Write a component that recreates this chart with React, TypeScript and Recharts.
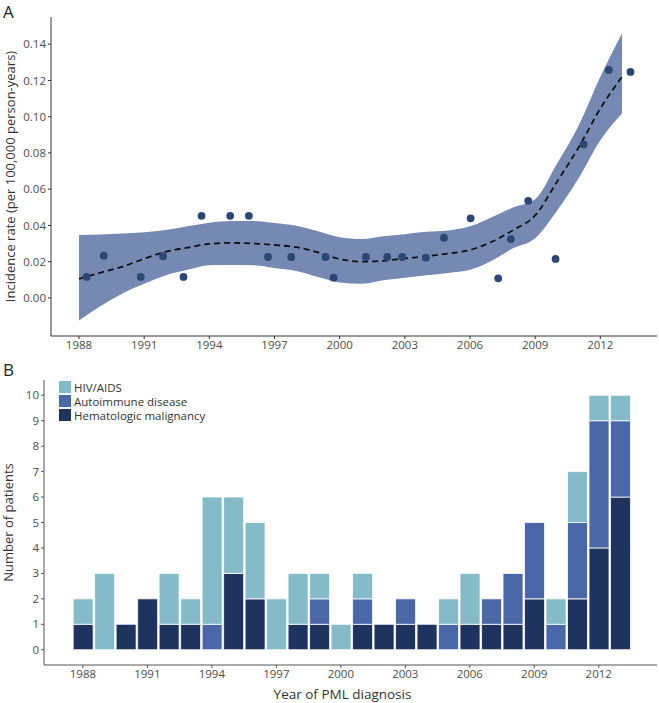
import React from "react"
import {
  ComposedChart, Area, Line, Scatter, XAxis, YAxis, BarChart, Bar,
} from "recharts"

// panel A: smoothed fit with confidence band
const fitYears = [1988, 1989, 1990, 1991, 1992, 1993, 1994, 1995, 1996, 1997, 1998, 1999, 2000,
  2001, 2002, 2003, 2004, 2005, 2006, 2007, 2008, 2009, 2010, 2011, 2012, 2013]
const fitRate = [0.0105, 0.014, 0.0173, 0.0216, 0.0255, 0.0278, 0.0298, 0.0304, 0.03, 0.0292, 0.028, 0.0252, 0.0215,
  0.02, 0.0205, 0.0218, 0.023, 0.0245, 0.0265, 0.031, 0.0375, 0.0455, 0.064, 0.083, 0.1045, 0.122]
const lowerCI = [-0.0125, -0.0045, 0.0025, 0.0078, 0.0125, 0.0155, 0.018, 0.0182, 0.018, 0.0165, 0.0148, 0.0115, 0.0085,
  0.0078, 0.0098, 0.0112, 0.0125, 0.0138, 0.0155, 0.0205, 0.0275, 0.033, 0.048, 0.066, 0.087, 0.1018]
const upperCI = [0.0347, 0.035, 0.0355, 0.0362, 0.0375, 0.0395, 0.0415, 0.0424, 0.0424, 0.0413, 0.0398, 0.0368, 0.0335,
  0.0325, 0.034, 0.0352, 0.0365, 0.0372, 0.0395, 0.0445, 0.05, 0.0545, 0.074, 0.095, 0.122, 0.146]

// observed incidence points
const pointYears = [1988.35, 1989.14, 1990.84, 1991.87, 1992.81, 1993.64, 1994.96, 1995.82, 1996.7, 1997.77,
  1999.35, 1999.72, 2001.21, 2002.19, 2002.88, 2003.97, 2004.8, 2006.03, 2007.3, 2007.88, 2008.68, 2009.94,
  2011.23, 2012.39, 2013.39]
const pointRates = [0.0116, 0.0233, 0.0116, 0.023, 0.0116, 0.0453, 0.0453, 0.0453, 0.0226, 0.0226,
  0.0226, 0.0112, 0.0226, 0.0226, 0.0226, 0.0222, 0.0332, 0.0439, 0.0108, 0.0325, 0.0536, 0.0215,
  0.0847, 0.1258, 0.1247]

// panel B: patients per year by underlying condition
const barYears = fitYears
const hematologic = [1, 0, 1, 2, 1, 1, 0, 3, 2, 0, 1, 1, 0, 1, 1, 1, 1, 0, 1, 1, 1, 2, 0, 2, 4, 6]
const autoimmune = [0, 0, 0, 0, 0, 0, 1, 0, 0, 0, 0, 1, 0, 1, 0, 1, 0, 1, 0, 1, 2, 3, 1, 3, 5, 3]
const hivAids = [1, 3, 0, 0, 2, 1, 5, 3, 3, 2, 2, 1, 1, 1, 0, 0, 0, 1, 2, 0, 0, 0, 1, 2, 1, 1]

const yearTicks = [1988, 1991, 1994, 1997, 2000, 2003, 2006, 2009, 2012]
const rateTicks = [0, 0.02, 0.04, 0.06, 0.08, 0.1, 0.12, 0.14]
const countTicks = [0, 1, 2, 3, 4, 5, 6, 7, 8, 9, 10]

const FONT = "'Open Sans', 'Noto Sans', sans-serif"
const TICK = { fontSize: 11.5, fill: "#4d4d4d", fontFamily: FONT }

const C_HIV = "#85bbc8"
const C_AUTO = "#4a67a8"
const C_HEMA = "#1f335f"

const fitData = fitYears.map((y, i) => ({ year: y, fit: fitRate[i], band: [lowerCI[i], upperCI[i]] }))
const pointData = pointYears.map((y, i) => ({ year: y, rate: pointRates[i] }))
const barData = barYears.map((y, i) => ({
  year: y, hema: hematologic[i], auto: autoimmune[i], hiv: hivAids[i],
}))

const legendItems = [
  { label: "HIV/AIDS", color: C_HIV },
  { label: "Autoimmune disease", color: C_AUTO },
  { label: "Hematologic malignancy", color: C_HEMA },
]

function PanelLegend() {
  return (
    <div style={{ fontFamily: FONT, fontSize: 11.5, color: "#333" }}>
      {legendItems.map((it) => (
        <div key={it.label} style={{ display: "flex", alignItems: "center", height: 14 }}>
          <span style={{ width: 12, height: 12, background: it.color, marginRight: 3, display: "inline-block" }} />
          <span>{it.label}</span>
        </div>
      ))}
    </div>
  )
}

export default function App() {
  return (
    <div style={{ position: "absolute", left: 0, top: 0, width: 659, height: 703, background: "#fff" }}>
      <div style={{ position: "absolute", left: 3, top: 0, fontFamily: FONT, fontSize: 17, color: "#222" }}>A</div>
      <div style={{ position: "absolute", left: 3, top: 358, fontFamily: FONT, fontSize: 17, color: "#222" }}>B</div>

      <div style={{ position: "absolute", left: 0, top: 0 }}>
        <ComposedChart width={659} height={360} data={fitData} margin={{ top: 17, right: 2, bottom: 0, left: 0 }}>
          <XAxis
            dataKey="year" type="number" domain={[1986.71, 2014.61]} ticks={yearTicks}
            allowDataOverflow tick={TICK} tickSize={3} height={24}
            axisLine={{ stroke: "#333" }} tickLine={{ stroke: "#333" }}
          />
          <YAxis
            type="number" domain={[-0.021, 0.155]} ticks={rateTicks} allowDataOverflow
            tickFormatter={(v: number) => v.toFixed(2)} tick={TICK} tickSize={3} width={51}
            axisLine={{ stroke: "#333" }} tickLine={{ stroke: "#333" }}
            label={{
              value: "Incidence rate (per 100,000 person-years)", angle: -90, position: "insideLeft",
              offset: 10, style: { textAnchor: "middle", fontSize: 13, fill: "#333", fontFamily: FONT },
            }}
          />
          <Area dataKey="band" type="monotone" stroke="none" fill="#7689b3" fillOpacity={1} isAnimationActive={false} />
          <Line dataKey="fit" type="monotone" stroke="#111" strokeWidth={1.8} strokeDasharray="6 4" dot={false} isAnimationActive={false} />
          <Scatter
            data={pointData} dataKey="rate" isAnimationActive={false}
            shape={(p: any) => <circle cx={p.cx} cy={p.cy} r={3.9} fill="#2d4775" />}
          />
        </ComposedChart>
      </div>

      <div style={{ position: "absolute", left: 0, top: 360 }}>
        <BarChart width={659} height={343} data={barData} margin={{ top: 20, right: 2, bottom: 0, left: 0 }} barSize={20}>
          <XAxis
            dataKey="year" type="number" domain={[1986.19, 2014.71]} ticks={yearTicks}
            allowDataOverflow tick={TICK} tickSize={3} height={38}
            axisLine={{ stroke: "#555" }} tickLine={{ stroke: "#555" }}
            label={{
              value: "Year of PML diagnosis", position: "insideBottom", offset: 4, dx: -8,
              style: { fontSize: 13.5, fill: "#333", fontFamily: FONT },
            }}
          />
          <YAxis
            type="number" domain={[-0.6, 10.6]} ticks={countTicks} allowDataOverflow
            tick={TICK} tickSize={3} width={44}
            axisLine={{ stroke: "#555" }} tickLine={{ stroke: "#555" }}
            label={{
              value: "Number of patients", angle: -90, position: "insideLeft",
              offset: 8, style: { textAnchor: "middle", fontSize: 13, fill: "#333", fontFamily: FONT },
            }}
          />
          <Bar dataKey="hema" stackId="a" fill={C_HEMA} stroke="#fff" strokeWidth={0.8} isAnimationActive={false} />
          <Bar dataKey="auto" stackId="a" fill={C_AUTO} stroke="#fff" strokeWidth={0.8} isAnimationActive={false} />
          <Bar dataKey="hiv" stackId="a" fill={C_HIV} stroke="#fff" strokeWidth={0.8} isAnimationActive={false} />
        </BarChart>
      </div>

      <div style={{ position: "absolute", left: 59, top: 380 }}>
        <PanelLegend />
      </div>
    </div>
  )
}
